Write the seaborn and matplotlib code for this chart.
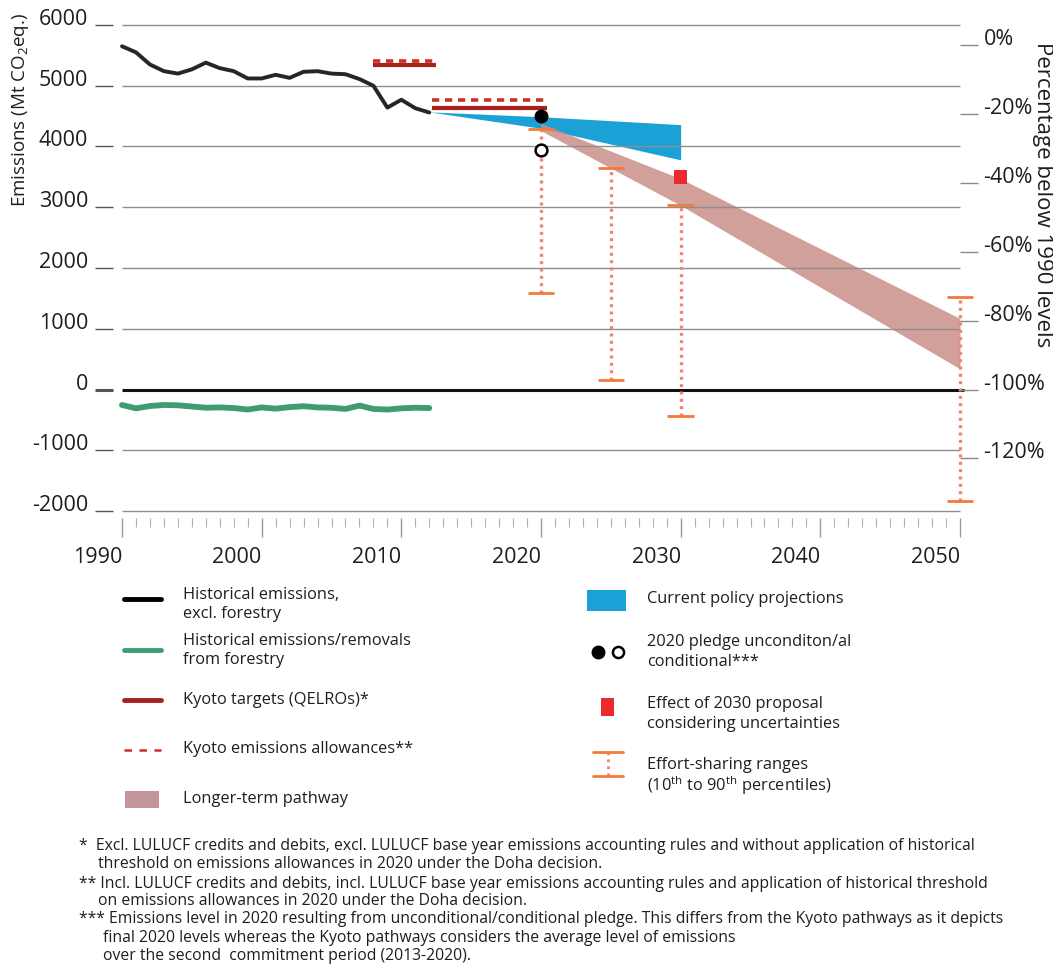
import matplotlib
matplotlib.use("Agg")
import matplotlib.pyplot as plt
import numpy as np
import pandas as pd
import seaborn as sns

# ---------------- data ----------------
years_hist = list(range(1990, 2013))
emissions_excl_forestry = [5650, 5550, 5350, 5240, 5200, 5270, 5380, 5290, 5240, 5120,
                           5120, 5180, 5130, 5230, 5240, 5200, 5190, 5110, 5000, 4640,
                           4770, 4630, 4560]
forestry = [-255, -310, -272, -255, -260, -280, -300, -295, -305, -330,
            -295, -315, -290, -275, -295, -300, -320, -265, -320, -330,
            -310, -300, -305]

kyoto_start = [2008, 2012.2]
kyoto_end = [2012.5, 2020.4]
kyoto_targets = [5346, 4637]
kyoto_allowances = [5412, 4770]

proj_years = [2012, 2020, 2030]
proj_upper = [4570, 4490, 4360]
proj_lower = [4570, 4300, 3780]

pledge_year = 2020
pledge_unconditional = 4500
pledge_conditional = 3940

path_years = [2020, 2030, 2050]
path_upper = [4380, 3470, 1170]
path_lower = [4260, 3030, 340]

es_years = [2020, 2025, 2030, 2050]
es_high = [4290, 3650, 3040, 1530]
es_low = [1590, 156, -437, -1837]

proposal_year = 2030
proposal_low, proposal_high = 3380, 3620

base_1990 = 5675
left_ticks = [6000, 5000, 4000, 3000, 2000, 1000, 0, -1000, -2000]
right_ticks = [0, -20, -40, -60, -80, -100, -120]
right_labels = ["0%", "-20%", "-40%", "-60%", "-80%", "-100%", "-120%"]
x_major = [1990, 2000, 2010, 2020, 2030, 2040, 2050]

# ---------------- style ----------------
sns.set_theme(style="white")
plt.rcParams["font.family"] = ["Open Sans", "DejaVu Sans"]
plt.rcParams["mathtext.fontset"] = "custom"
plt.rcParams["mathtext.rm"] = "Open Sans"
plt.rcParams["mathtext.it"] = "Open Sans"

C_BLACK = "#262626"
C_GREEN = "#3f9b70"
C_KYOTO = "#a81f1c"
C_KYOTO_D = "#cc2f2a"
C_BLUE = "#1ba1d6"
C_PINK = "#c98f88"
C_RED = "#ec2a2e"
C_ORANGE = "#f47a3a"
C_DOT = "#f3836e"
C_GRID = "#8e8e8e"
C_TEXT = "#1e1e1e"

W, H = 1053, 968
fig = plt.figure(figsize=(W / 100, H / 100), dpi=100)
ax_l, ax_r, ax_t, ax_b = 95, 978, 16, 518
ax = fig.add_axes([ax_l / W, (H - ax_b) / H, (ax_r - ax_l) / W, (ax_b - ax_t) / H])

px_per_year = (960 - 122) / 60
x0 = 1990 - (122 - ax_l) / px_per_year
x1 = 2050 + (ax_r - 960) / px_per_year
px_per_mt = (389.5 - 25) / 6000
y_top = 6000 + (25 - ax_t) / px_per_mt
y_bot = -(ax_b - 389.5) / px_per_mt
ax.set_xlim(x0, x1)
ax.set_ylim(y_bot, y_top)

# gridlines
grid_vals = [v for v in left_ticks if v != 0]
ax.hlines(grid_vals, 1990, 2050, color=C_GRID, lw=1.0, zorder=3)
ax.hlines([0], 1990, 2050.3, color="#111111", lw=2.2, zorder=3.5)

# longer-term pathway & projections
ax.fill_between(proj_years, proj_lower, proj_upper, color=C_BLUE, lw=0, zorder=2)
ax.fill_between(path_years, path_lower, path_upper, color=C_PINK, alpha=0.85, lw=0, zorder=2.2)

# historical lines (seaborn)
df_hist = pd.DataFrame({"year": years_hist,
                        "excl": emissions_excl_forestry,
                        "forestry": forestry})
sns.lineplot(data=df_hist, x="year", y="excl", ax=ax, color=C_BLACK, lw=2.8, zorder=5)
sns.lineplot(data=df_hist, x="year", y="forestry", ax=ax, color=C_GREEN, lw=4.2, zorder=5)

# Kyoto
ax.hlines(kyoto_targets, kyoto_start, kyoto_end, color=C_KYOTO, lw=3.0, zorder=6)
ax.hlines(kyoto_allowances, kyoto_start, kyoto_end, color=C_KYOTO_D, lw=2.6,
          linestyles=(0, (2.0, 1.6)), zorder=6)

# effort-sharing ranges
ax.vlines(es_years, es_low, es_high, color=C_DOT, lw=2.4, linestyles=(0, (0.9, 1.3)), zorder=6)
ax.hlines(es_high, np.array(es_years) - 0.95, np.array(es_years) + 0.95, color=C_ORANGE, lw=2.0, zorder=6)
ax.hlines(es_low, np.array(es_years) - 0.95, np.array(es_years) + 0.95, color=C_ORANGE, lw=2.0, zorder=6)

# 2030 proposal
ax.bar([proposal_year], [proposal_high - proposal_low], bottom=[proposal_low], width=0.9,
       color=C_RED, lw=0, zorder=7)

# pledges
ax.plot([pledge_year], [pledge_unconditional], "o", ms=9, color="black", zorder=8)
ax.plot([pledge_year], [pledge_conditional], "o", ms=8.5, mfc="white", mec="black", mew=1.8, zorder=8)

# axes styling
for s in ax.spines.values():
    s.set_visible(False)
ax.set_xlabel("")
ax.set_ylabel("")
ax.set_yticks(left_ticks)
ax.set_yticklabels([str(v) for v in left_ticks])
ax.tick_params(axis="y", left=True, direction="in", length=13, width=1.0, color="#555555",
               pad=5, labelsize=15.5, labelcolor=C_TEXT)
for lbl in ax.get_yticklabels():
    lbl.set_verticalalignment("baseline")
for t, v in zip(ax.yaxis.get_major_ticks(), left_ticks):
    if v == 0:
        t.tick1line.set_color("#111111")
        t.tick1line.set_markeredgewidth(2.2)

ax.set_xticks(x_major)
ax.set_xticklabels([str(v) for v in x_major])
ax.set_xticks(list(range(1990, 2051)), minor=True)
ax.tick_params(axis="x", which="major", bottom=True, direction="out", length=14, width=1.0,
               color="#9a9a9a", pad=7, labelsize=15.5, labelcolor=C_TEXT)
ax.tick_params(axis="x", which="minor", bottom=True, direction="out", length=6.5, width=0.8,
               color="#b0b0b0")
for lbl in ax.get_xticklabels():
    lbl.set_horizontalalignment("right")

ax2 = ax.twinx()
ax2.set_ylim((y_bot / base_1990 - 1) * 100, (y_top / base_1990 - 1) * 100)
for s in ax2.spines.values():
    s.set_visible(False)
ax2.set_yticks(right_ticks)
ax2.set_yticklabels(right_labels)
ax2.tick_params(axis="y", right=True, direction="in", length=13, width=1.0, color="#8a8a8a",
                pad=4, labelsize=15.5, labelcolor=C_TEXT)
for lbl in ax2.get_yticklabels():
    lbl.set_verticalalignment("baseline")

fig.text(21 / W, 1 - 110 / H, "Emissions (Mt CO$_2$eq.)", rotation=90,
         ha="center", va="center", fontsize=13.5, color=C_TEXT)
fig.text(1043 / W, 1 - 195 / H, "Percentage below 1990 levels", rotation=270,
         ha="center", va="center", fontsize=16, color=C_TEXT)

# ---------------- legend (drawn in pixel space) ----------------
lax = fig.add_axes([0, 0, 1, 1], zorder=-1)
lax.set_xlim(0, W)
lax.set_ylim(H, 0)
lax.axis("off")

fs_leg = 11.8
lax.plot([124, 161], [599, 599], color="black", lw=3.5, solid_capstyle="round")
lax.plot([124, 161], [650, 650], color=C_GREEN, lw=3.5, solid_capstyle="round")
lax.plot([124, 161], [700, 700], color=C_KYOTO, lw=3.5, solid_capstyle="round")
lax.plot([124, 161], [750, 750], color=C_KYOTO_D, lw=1.8, ls=(0, (3, 3)))
lax.add_patch(plt.Rectangle((125, 791), 34, 17, color="#c4959a", lw=0))

left_text = [("Historical emissions,", 595), ("excl. forestry", 614),
             ("Historical emissions/removals", 641), ("from forestry", 660),
             ("Kyoto targets (QELROs)*", 700), ("Kyoto emissions allowances**", 749),
             ("Longer-term pathway", 799)]
for s, y in left_text:
    lax.text(183, y, s, fontsize=fs_leg, va="center", ha="left", color=C_TEXT)

lax.add_patch(plt.Rectangle((587, 590), 39, 21, color=C_BLUE, lw=0))
lax.plot([598], [652], "o", ms=9, color="black")
lax.plot([618], [652], "o", ms=8, mfc="white", mec="black", mew=1.8)
lax.add_patch(plt.Rectangle((601, 698), 13, 18, color=C_RED, lw=0))
lax.plot([608, 608], [752, 776], color=C_DOT, lw=2.0, ls=(0, (1, 1.5)))
lax.plot([593, 623], [752, 752], color=C_ORANGE, lw=2.0)
lax.plot([593, 623], [776, 776], color=C_ORANGE, lw=2.0)

right_text = [("Current policy projections", 599), ("2020 pledge unconditon/al", 642),
              ("conditional***", 662), ("Effect of 2030 proposal", 704),
              ("considering uncertainties", 724), ("Effort-sharing ranges", 765),
              (r"(10$^{\rm th}$ to 90$^{\rm th}$ percentiles)", 786)]
for s, y in right_text:
    lax.text(647, y, s, fontsize=fs_leg, va="center", ha="left", color=C_TEXT)

# ---------------- footnotes ----------------
fs_fn = 11.3
notes = [
    (79, 846, "*  Excl. LULUCF credits and debits, excl. LULUCF base year emissions accounting rules and without application of historical"),
    (98, 864, "threshold on emissions allowances in 2020 under the Doha decision."),
    (79, 884, "** Incl. LULUCF credits and debits, incl. LULUCF base year emissions accounting rules and application of historical threshold"),
    (98, 901, "on emissions allowances in 2020 under the Doha decision."),
    (79, 919, "*** Emissions level in 2020 resulting from unconditional/conditional pledge. This differs from the Kyoto pathways as it depicts"),
    (103, 938, "final 2020 levels whereas the Kyoto pathways considers the average level of emissions"),
    (103, 956, "over the second  commitment period (2013-2020)."),
]
for x, y, s in notes:
    lax.text(x, y, s, fontsize=fs_fn, va="center", ha="left", color=C_TEXT)

fig.savefig("out.png", dpi=100)
